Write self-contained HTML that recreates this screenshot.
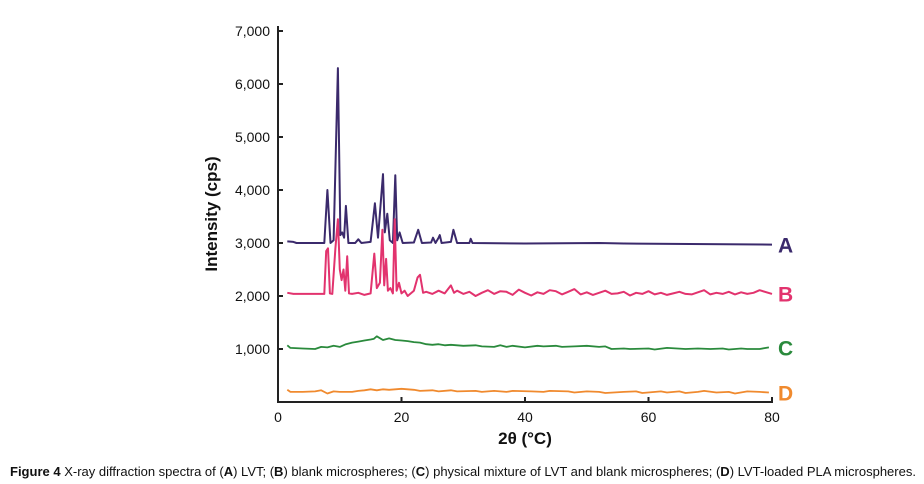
<!DOCTYPE html>
<html><head><meta charset="utf-8"><style>
body{margin:0;background:#fff;width:924px;height:484px;overflow:hidden;font-family:"Liberation Sans",sans-serif}
svg{position:absolute;left:0;top:0}
</style></head><body>
<svg id="chart" width="924" height="484" viewBox="0 0 924 484"></svg>
<script>
const yTicks=[1000,2000,3000,4000,5000,6000,7000];
const yTickLabels=["1,000","2,000","3,000","4,000","5,000","6,000","7,000"];
const xTicks=[0,20,40,60,80];
const seriesNames=["A","B","C","D"];
const seriesColors=["#3b2a6c","#e2336e","#2a8a3c","#f08a2e"];
const aX=[1.5,2.5,3,7.5,8.0,8.5,9.0,9.7,10.1,10.4,10.7,11.0,11.4,12.5,13,13.5,15,15.7,16.2,17.0,17.3,17.7,18.1,18.6,19.0,19.3,19.7,20.2,22,22.7,23.3,24.8,25.1,25.5,26.0,26.2,26.5,28,28.4,29,31,31.2,31.5,40,52,56,80];
const aY=[3030,3020,3000,3000,4000,3000,3050,6300,3150,3200,3100,3700,3000,3000,3070,3000,3020,3750,3100,4300,3200,3550,3050,3000,4280,3050,3200,3000,3010,3250,3000,3010,3100,3000,3100,3150,3000,3020,3250,3000,3000,3080,3000,2990,3000,2990,2970];
const bX=[1.5,2.5,7.5,7.8,8.1,8.4,8.8,9.3,9.7,10.0,10.3,10.6,10.9,11.2,11.5,12,13,14,15,15.6,16.0,16.5,16.9,17.2,17.5,17.8,18.2,18.6,18.9,19.2,19.6,20,20.5,21,22,22.6,23,23.5,24,25,26,27,28,28.5,29,30,31,32,33,34,35,36,37,38,39,40,41,42,43,44,45,46,47,48,49,50,51,52,53,54,55,56,57,58,59,60,61,62,63,64,65,66,67,68,69,70,71,72,73,74,75,76,77,78,80];
const bY=[2060,2040,2040,2850,2900,2050,2040,2900,3450,2500,2300,2500,2100,2750,2050,2040,2060,2020,2050,2800,2150,2250,3250,2200,2700,2100,2150,2050,3450,2100,2250,2050,2100,2000,2100,2350,2400,2060,2080,2040,2100,2050,2200,2060,2100,2040,2080,2000,2060,2110,2040,2090,2080,2020,2120,2060,2010,2070,2040,2110,2090,2030,2080,2130,2030,2070,2020,2060,2100,2040,2050,2080,2010,2060,2040,2090,2030,2060,2020,2050,2080,2040,2030,2070,2110,2030,2060,2040,2080,2030,2070,2040,2060,2110,2040,2050,2050];
const cX=[1.5,2,4,6,7,8,9,10,11,12,13,14,15,15.5,16,17,18,19,20,21,22,23,24,25,26,27,28,30,32,33,35,36,37,38,40,42,43,45,46,48,50,52,53,54,56,57,60,61,63,66,68,70,72,73,75,76,78,79.5];
const cY=[1070,1020,1010,1000,1040,1030,1060,1040,1090,1120,1140,1160,1180,1190,1240,1170,1200,1170,1160,1150,1130,1120,1090,1080,1090,1070,1080,1060,1070,1050,1040,1070,1040,1060,1030,1060,1050,1060,1040,1050,1060,1040,1050,1000,1010,1000,1010,990,1020,1000,1010,1000,1010,990,1010,1000,1000,1030];
const dX=[1.5,2,4,6,7,8,9,10,12,13,14,15,16,17,18,20,22,23,25,26,28,29,32,33,35,37,38,41,43,44,47,48,50,52,53,56,58,59,62,63,65,66,68,69,71,73,74,76,78,79.5];
const dY=[230,190,190,200,220,160,200,190,190,210,220,240,220,240,230,250,230,210,220,200,220,200,210,190,210,190,210,200,190,210,200,180,200,190,170,190,200,170,200,180,200,170,190,210,180,190,160,200,190,180];
const seriesX=[aX,bX,cX,dX], seriesY=[aY,bY,cY,dY];

const svg=document.getElementById('chart');
const NS='http://www.w3.org/2000/svg';
const X0=278,X1=772,Y0=402,PX=53/1000;
function sx(v){return X0+(X1-X0)*v/80;}
function sy(v){return Y0-v*PX;}
function mk(t,a,txt){const e=document.createElementNS(NS,t);for(const k in a)e.setAttribute(k,a[k]);if(txt!==undefined)e.textContent=txt;svg.appendChild(e);return e;}

let e=mk('line',{x1:X0,y1:26,x2:X0,y2:Y0+1,stroke:'#222','stroke-width':2});


e=mk('line',{x1:X0-1,y1:Y0,x2:X1+1,y2:Y0,stroke:'#222','stroke-width':2});


yTicks.forEach((v,i)=>{
  let t=mk('line',{x1:X0,y1:sy(v),x2:X0+5,y2:sy(v),stroke:'#222','stroke-width':2});
  
  
  let l=mk('text',{x:X0-8,y:sy(v)+5,'text-anchor':'end','font-size':14,fill:'#111'},yTickLabels[i]);
  
  
});
xTicks.forEach(v=>{
  let t=mk('line',{x1:sx(v),y1:Y0,x2:sx(v),y2:Y0-5,stroke:'#222','stroke-width':2});
  
  
  let l=mk('text',{x:sx(v),y:Y0+20,'text-anchor':'middle','font-size':14,fill:'#111'},String(v));
  
  
});
e=mk('text',{x:217,y:214,'text-anchor':'middle','font-size':17,'font-weight':'bold',fill:'#111',transform:'rotate(-90 217 214)'},'Intensity (cps)');


e=mk('text',{x:525,y:444,'text-anchor':'middle','font-size':17,'font-weight':'bold',fill:'#111'},'2θ (°C)');


seriesX.forEach((xs,s)=>{
  const d=xs.map((x,i)=>(i?'L':'M')+sx(x).toFixed(1)+' '+sy(seriesY[s][i]).toFixed(1)).join(' ');
  let p=mk('path',{d:d,fill:'none',stroke:seriesColors[s],'stroke-width':s<2?2:1.8,'stroke-linejoin':'round'});
  
  
  const last=seriesY[s][seriesY[s].length-1];
  let l=mk('text',{x:778,y:sy(last)+8,'font-size':21,'font-weight':'bold',fill:seriesColors[s]},seriesNames[s]);
  
  
});
e=mk('text',{x:10,y:476,'font-size':12.5,fill:'#111',textLength:906,lengthAdjust:'spacingAndGlyphs'});
e.innerHTML='<tspan font-weight="bold">Figure 4</tspan> X-ray diffraction spectra of (<tspan font-weight="bold">A</tspan>) LVT; (<tspan font-weight="bold">B</tspan>) blank microspheres; (<tspan font-weight="bold">C</tspan>) physical mixture of LVT and blank microspheres; (<tspan font-weight="bold">D</tspan>) LVT-loaded PLA microspheres.';


</script>
</body></html>
